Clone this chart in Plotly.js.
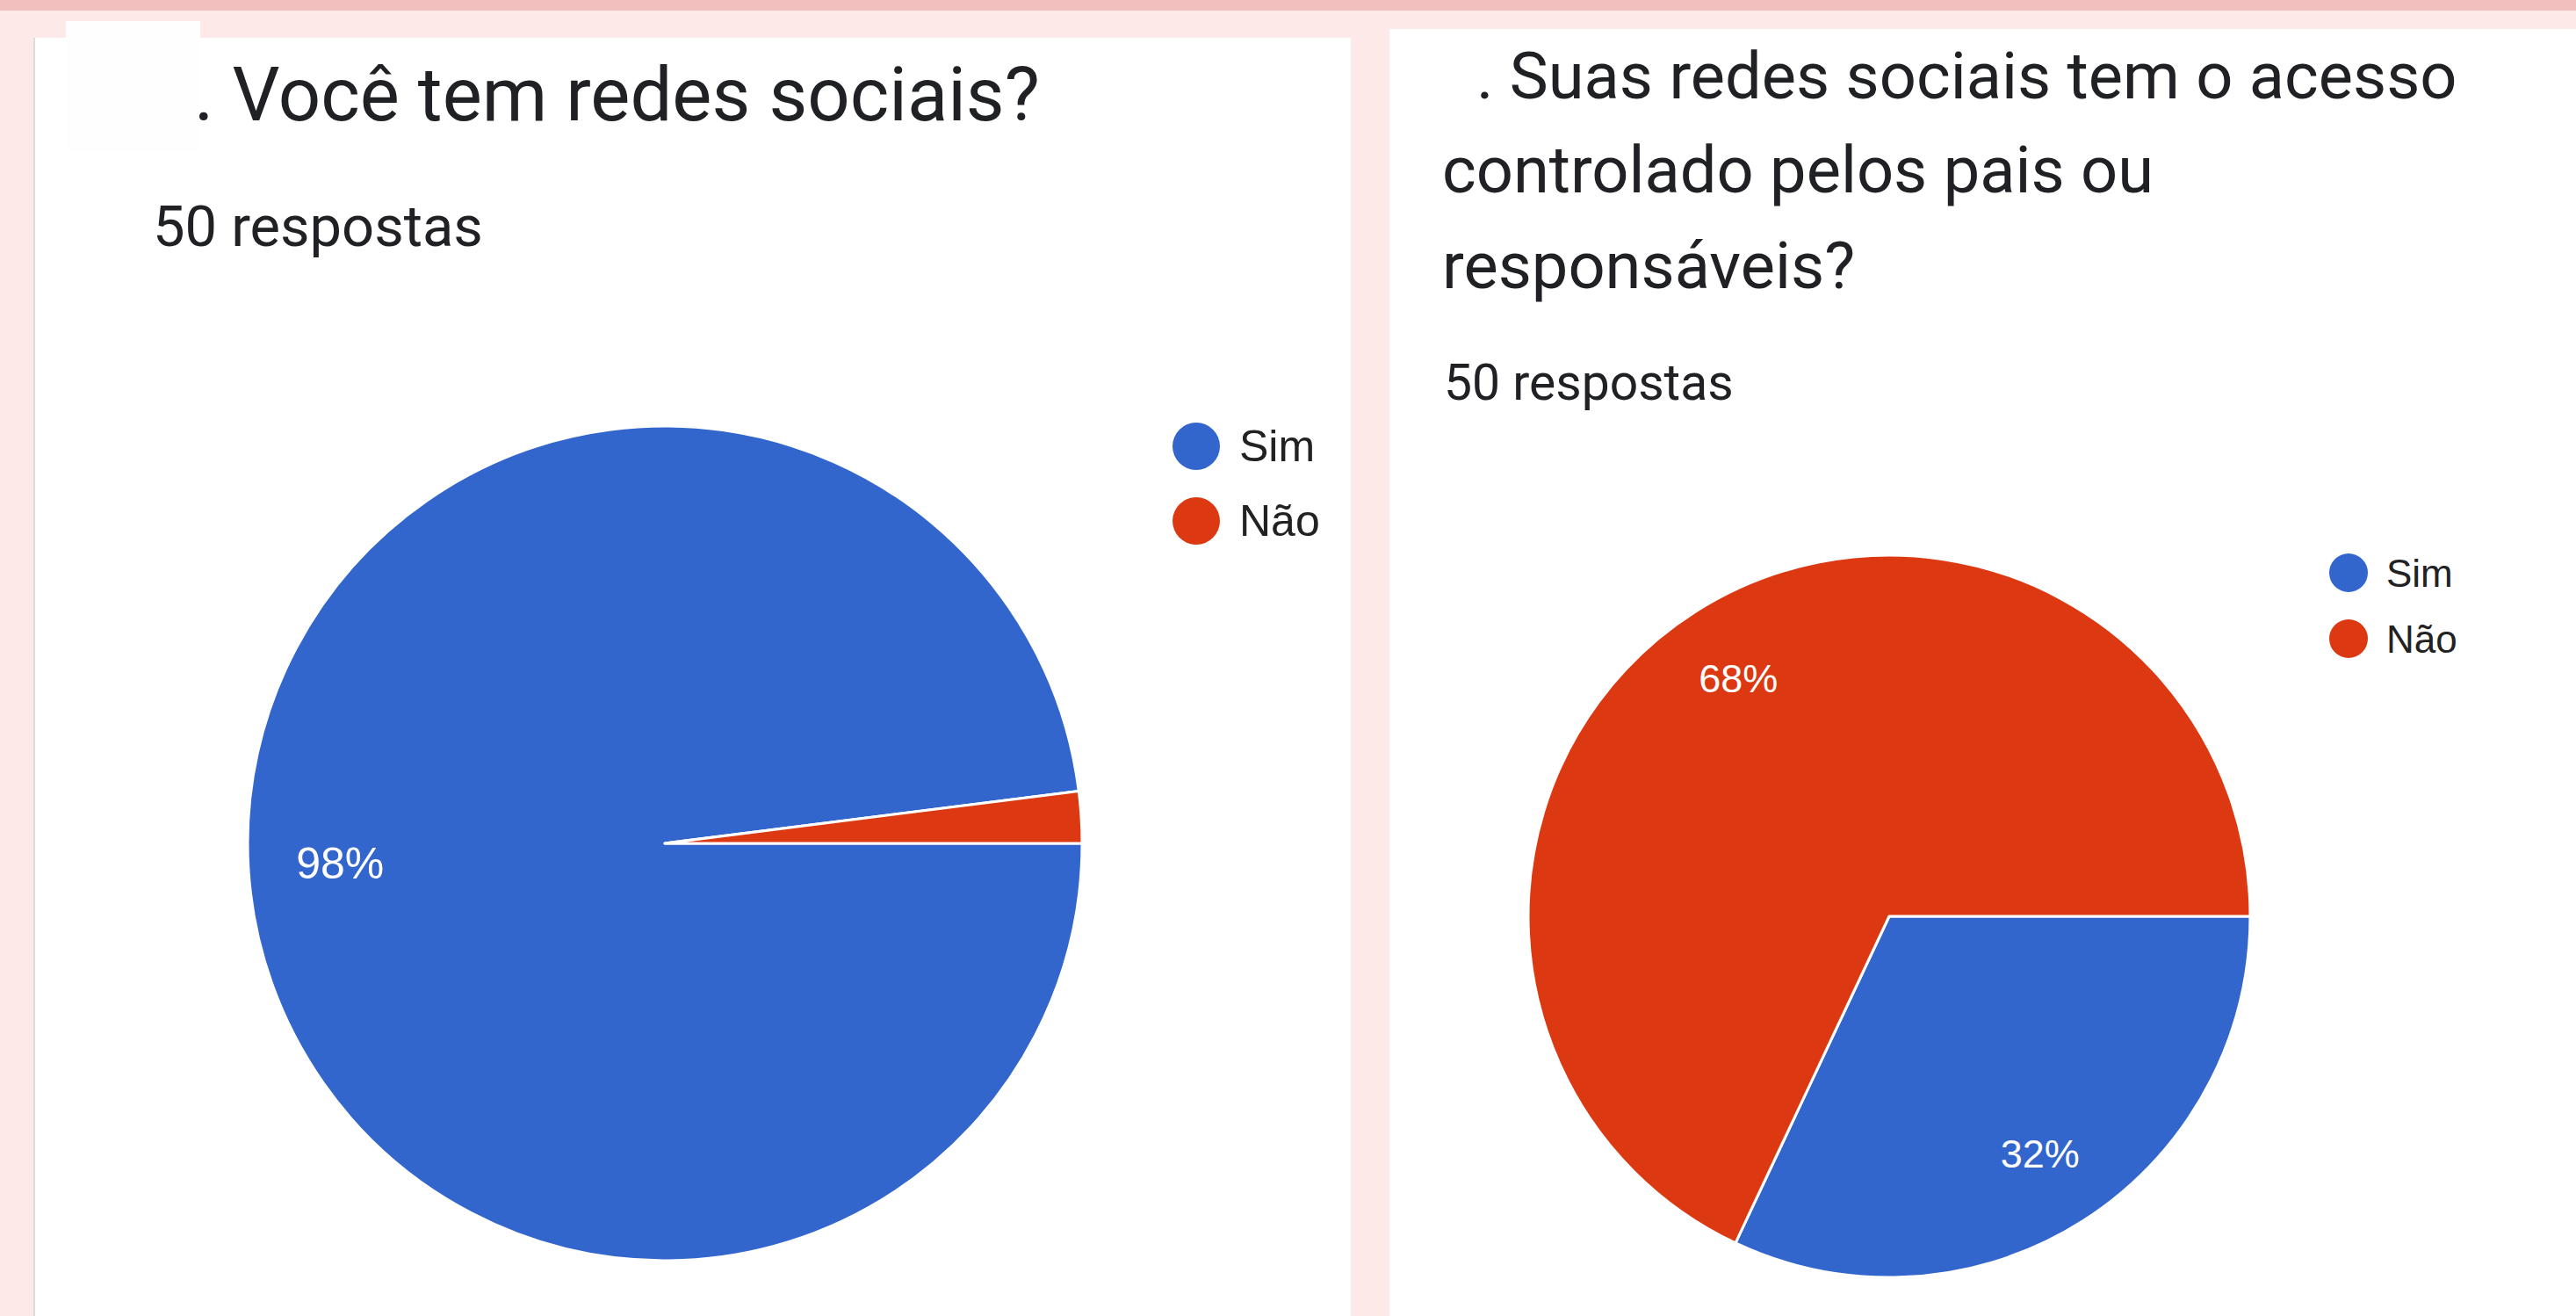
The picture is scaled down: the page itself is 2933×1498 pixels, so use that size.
<!DOCTYPE html>
<html><head><meta charset="utf-8">
<script src="https://cdn.plot.ly/plotly-3.0.1.min.js"></script>
<style>html,body{margin:0;padding:0;background:#fdeae8;} #chart{width:2933px;height:1498px;}</style>
</head><body><div id="chart"></div>
<script>
const W = 2933, H = 1498;
// ---- data ----
const labels = ["Sim", "Não"];
const sliceColors = ["#3366cc", "#dc3912"];
const q1Values = [98, 2];
const q2Values = [32, 68];
const q1Title = ". Você tem redes sociais?";
const q2TitleLines = [". Suas redes sociais tem o acesso", "controlado pelos pais ou", "responsáveis?"];
const responsesText = "50 respostas";

// ---- helpers (pixel -> paper) ----
const px = x => x / W;
const py = y => 1 - y / H;

const titleFont = "Roboto, 'Noto Sans', sans-serif";
const chartFont = "'Liberation Sans', Arial, sans-serif";
const textColor = "#202124";

function pieTraces(values, x0, x1, y0, y1, fontSize) {
  const total = values.reduce((a, b) => a + b, 0);
  const domain = {x: [px(x0), px(x1)], y: [py(y1), py(y0)]};
  const base = {
    type: "pie", labels: labels, values: values, sort: false,
    direction: "clockwise", rotation: 90, showlegend: false, domain: domain
  };
  // filled slices
  const slices = Object.assign({}, base, {
    marker: {colors: sliceColors, line: {color: "#ffffff", width: 3}},
    textinfo: "none",
    hoverinfo: "label+percent"
  });
  // transparent ring that carries the percentage labels (places them out toward the rim)
  const labelsRing = Object.assign({}, base, {
    hole: 0.56,
    marker: {colors: labels.map(() => "rgba(0,0,0,0)"), line: {width: 0}},
    texttemplate: values.map(v => (v / total >= 0.05 ? "%{percent:.0%}" : "")),
    textposition: "inside",
    insidetextorientation: "horizontal",
    insidetextfont: {color: "#ffffff", size: fontSize, family: chartFont},
    hoverinfo: "skip"
  });
  return [slices, labelsRing];
}

const data = [
  ...pieTraces(q1Values, 281, 1233, 485, 1435, 50),
  ...pieTraces(q2Values, 1740, 2562, 632, 1454, 45)
];

const shapes = [
  {type: "rect", xref: "paper", yref: "paper", x0: 0, x1: 1, y0: py(12), y1: 1, fillcolor: "#f3bebe", line: {width: 0}, layer: "below"},
  {type: "rect", xref: "paper", yref: "paper", x0: px(39), x1: px(1538), y0: 0, y1: py(43), fillcolor: "#ffffff", line: {width: 0}, layer: "below"},
  {type: "line", xref: "paper", yref: "paper", x0: px(39), x1: px(39), y0: 0, y1: py(43), line: {color: "#dcdcdc", width: 2}, layer: "below"},
  {type: "rect", xref: "paper", yref: "paper", x0: px(75), x1: px(228), y0: py(173), y1: py(24), fillcolor: "#fffefe", line: {width: 0}, layer: "below"},
  {type: "rect", xref: "paper", yref: "paper", x0: px(1582), x1: 1, y0: 0, y1: py(33), fillcolor: "#ffffff", line: {width: 0}, layer: "below"}
];

const annotations = [];
function addText(text, x, yMid, size, family, color) {
  annotations.push({text: text, xref: "paper", yref: "paper", x: px(x), y: py(yMid),
    xanchor: "left", yanchor: "middle", showarrow: false, borderpad: 0,
    font: {size: size, family: family, color: color}});
}
addText(q1Title, 220, 108, 85, titleFont, textColor);
addText(responsesText, 173, 258, 65, titleFont, textColor);
const q2Baselines = [112, 219, 328];
q2TitleLines.forEach((t, i) => addText(t, i === 0 ? 1680 : 1641, q2Baselines[i] - 0.342 * 74, 74, titleFont, textColor));
addText(responsesText, 1643, 436, 57, titleFont, textColor);

// legends
function addLegend(cx, cy0, step, r, textX, size) {
  labels.forEach((lab, i) => {
    const cy = cy0 + i * step;
    shapes.push({type: "circle", xref: "paper", yref: "paper",
      x0: px(cx - r), x1: px(cx + r), y0: py(cy + r), y1: py(cy - r),
      fillcolor: sliceColors[i], line: {width: 0}});
    addText(lab, textX, cy, size, chartFont, "#222222");
  });
}
addLegend(1362, 508, 85, 27, 1410, 50);
addLegend(2674, 652, 75, 22, 2716, 44);

const layout = {
  width: W, height: H,
  margin: {l: 0, r: 0, t: 0, b: 0, pad: 0},
  paper_bgcolor: "#fdeae8",
  plot_bgcolor: "#fdeae8",
  shapes: shapes,
  annotations: annotations,
  showlegend: false
};

Plotly.newPlot("chart", data, layout, {displayModeBar: false, staticPlot: true});
</script>
</body></html>
